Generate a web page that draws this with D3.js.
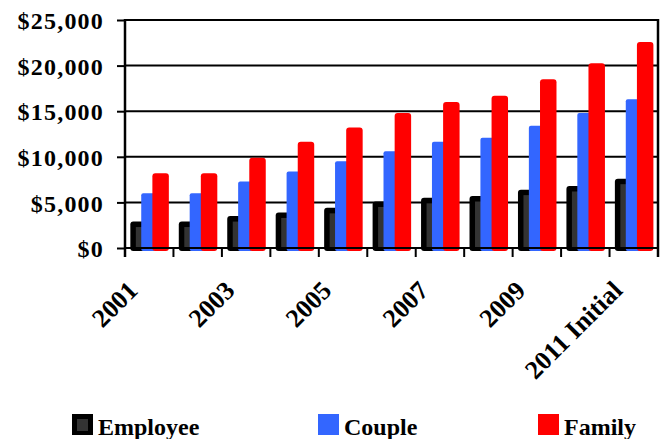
<!DOCTYPE html>
<html>
<head>
<meta charset="utf-8">
<script src="https://cdn.jsdelivr.net/npm/d3@7"></script>
<style>
  html, body { margin: 0; padding: 0; background: #fff; }
  svg { display: block; }
  text { font-family: "Liberation Serif", "Times New Roman", serif; font-weight: bold; fill: #000; }
</style>
</head>
<body>
<svg id="chart" width="667" height="439"></svg>
<script>
// ---- data ----
const categories = ["2001", "2002", "2003", "2004", "2005", "2006", "2007", "2008", "2009", "2010", "2011 Initial"];
const shownLabels = ["2001", "2003", "2005", "2007", "2009", "2011 Initial"];
const employee = [2900, 2900, 3500, 3900, 4400, 5100, 5500, 5700, 6400, 6800, 7600];
const couple   = [6000, 6000, 7300, 8400, 9500, 10600, 11650, 12100, 13400, 14800, 16300];
const family   = [8200, 8200, 9900, 11650, 13200, 14800, 16000, 16700, 18500, 20250, 22600];
const yTicks = [0, 5000, 10000, 15000, 20000, 25000];
const seriesNames = ["Employee", "Couple", "Family"];

// ---- layout ----
const svg = d3.select("#chart");
const pLeft = 125, pRight = 658, pTop = 20, pBottom = 248;

const x = d3.scaleBand().domain(categories).range([pLeft, pRight]).paddingInner(0).paddingOuter(0);
const y = d3.scaleLinear().domain([0, 25000]).range([pBottom, pTop]);
const bw = x.bandwidth();
const barBase = pBottom + 3;

// gridlines
svg.append("g").selectAll("line").data(yTicks).join("line")
  .attr("x1", pLeft).attr("x2", pRight)
  .attr("y1", d => y(d)).attr("y2", d => y(d))
  .attr("stroke", "#000").attr("stroke-width", 2);

// bars
const g = svg.append("g");
categories.forEach((c, i) => {
  const g0 = x(c);
  const ey = y(employee[i]);
  g.append("rect").attr("x", g0 + bw * 0.11).attr("y", ey)
    .attr("width", bw * 0.3).attr("height", barBase - ey)
    .attr("rx", 3).attr("fill", "#000");
  g.append("rect").attr("x", g0 + bw * 0.11 + 5.5).attr("y", ey + 5.5)
    .attr("width", bw * 0.3 - 5.5).attr("height", Math.max(0, pBottom - 1 - (ey + 5.5)))
    .attr("fill", "#333333");
  const cy = y(couple[i]);
  g.append("rect").attr("x", g0 + bw * 0.335).attr("y", cy)
    .attr("width", bw * 0.3).attr("height", barBase - cy)
    .attr("rx", 2).attr("fill", "#3366FF");
  const fy = y(family[i]);
  g.append("rect").attr("x", g0 + bw * 0.565).attr("y", fy)
    .attr("width", bw * 0.34).attr("height", barBase - fy)
    .attr("rx", 3).attr("fill", "#FF0000");
});

// x axis line (drawn over bar bases)
svg.append("line").attr("x1", pLeft).attr("x2", pRight)
  .attr("y1", pBottom).attr("y2", pBottom)
  .attr("stroke", "#000").attr("stroke-width", 2);

// x ticks at category boundaries
const boundaries = categories.map(c => x(c)).concat([x(categories[categories.length - 1]) + bw]);
svg.append("g").selectAll("line").data(boundaries).join("line")
  .attr("x1", d => d).attr("x2", d => d)
  .attr("y1", pBottom).attr("y2", pBottom + 9)
  .attr("stroke", "#000").attr("stroke-width", 2);

// left axis + right border
svg.append("line").attr("x1", pLeft).attr("x2", pLeft).attr("y1", pTop - 1).attr("y2", pBottom + 9)
  .attr("stroke", "#000").attr("stroke-width", 2.5);
svg.append("line").attr("x1", pRight).attr("x2", pRight).attr("y1", pTop - 1).attr("y2", pBottom + 9)
  .attr("stroke", "#000").attr("stroke-width", 2.5);

// y axis ticks + labels
const yAxis = d3.axisLeft(y).tickValues(yTicks).tickSize(8).tickPadding(0)
  .tickFormat(d => "$" + d3.format(",")(d));
const ya = svg.append("g").attr("transform", `translate(${pLeft},0)`).call(yAxis);
ya.select(".domain").remove();
ya.selectAll(".tick line").attr("stroke", "#000").attr("stroke-width", 2);
ya.selectAll(".tick text")
  .attr("x", -21).attr("dy", "0.36em")
  .attr("font-size", 24).attr("letter-spacing", 1.2)
  .attr("text-anchor", "end")
  .style("font-family", '"Liberation Serif", "Times New Roman", serif')
  .style("font-weight", "bold").attr("fill", "#000");

// x labels (rotated)
svg.append("g").selectAll("text").data(shownLabels).join("text")
  .attr("transform", d => `translate(${x(d) + bw / 2 - 10},292) rotate(-45)`)
  .attr("text-anchor", "end")
  .attr("font-size", 26)
  .text(d => d);

// legend
const legendColors = ["#000", "#3366FF", "#FF0000"];
const legendX = [72, 318, 538];
const lg = svg.append("g");
seriesNames.forEach((s, i) => {
  lg.append("rect").attr("x", legendX[i]).attr("y", 414).attr("width", 21).attr("height", 21)
    .attr("fill", legendColors[i]);
  if (i === 0) {
    lg.append("rect").attr("x", legendX[i] + 5).attr("y", 419).attr("width", 11).attr("height", 12)
      .attr("fill", "#333333");
  }
  lg.append("text").attr("x", legendX[i] + 26).attr("y", 435)
    .attr("font-size", 24).text(s);
});
</script>
</body>
</html>
